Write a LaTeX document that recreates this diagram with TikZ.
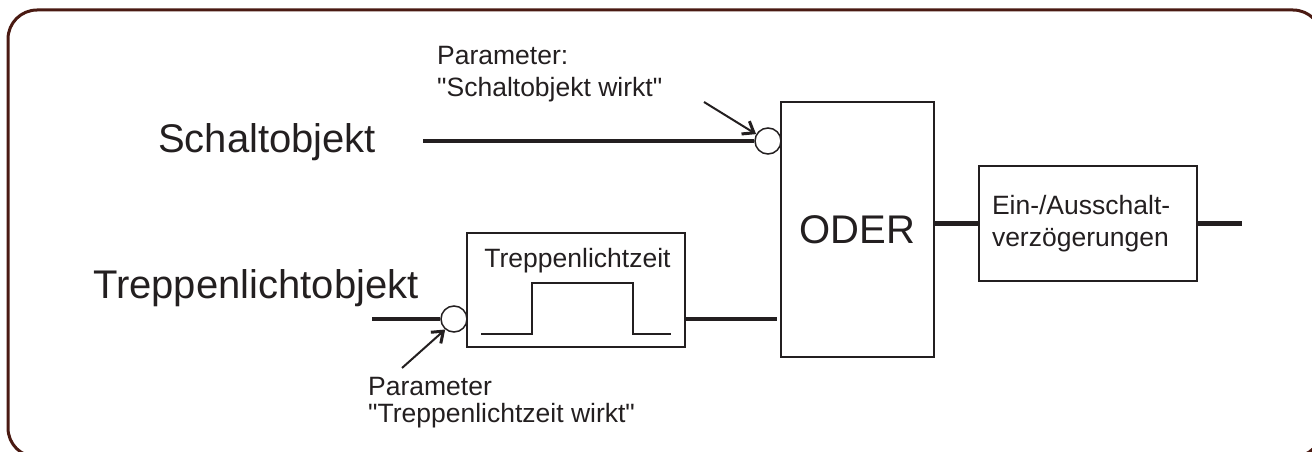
\documentclass[tikz,border=0pt]{standalone}
\usepackage{fontspec}
\setmainfont{Liberation Sans}[Ligatures=TeXOff]
\usetikzlibrary{arrows.meta}
\definecolor{ink}{HTML}{231F20}
\definecolor{framec}{HTML}{4A1A12}
\begin{document}
\begin{tikzpicture}[x=1pt,y=-1pt,
  blk/.style={draw=ink, line width=2pt, inner sep=0pt, text=ink},
  sig/.style={draw=ink, line width=4.5pt},
  circ/.style={circle, draw=ink, line width=1.5pt, fill=white, minimum size=26pt, inner sep=0pt},
  parr/.style={draw=ink, line width=2pt, -{Straight Barb[length=10pt,width=15pt,line width=3pt]}},
  big/.style={font=\fontsize{40}{48}\selectfont, text=ink, inner sep=0pt},
  small/.style={font=\fontsize{26.5}{31}\selectfont, text=ink, inner sep=0pt, align=left}]
\useasboundingbox (0,0) rectangle (1312,452);
\draw[framec, line width=3pt, rounded corners=29pt] (8,10) rectangle (1322,457);

\node[big, anchor=base west] (schalt) at (158,152) {Schaltobjekt};
\node[big, anchor=base west] (trepp) at (93,298) {Treppenlichtobjekt};

\node[blk, minimum width=153pt, minimum height=255pt, font=\fontsize{40}{48}\selectfont] (oder) at (857.5,229.5) {ODER};
\node[blk, minimum width=218pt, minimum height=115pt, text width=192pt, inner xsep=13pt, align=left, font=\fontsize{26.5}{32}\selectfont] (ein) at (1088,223.5) {Ein-/Ausschalt-\\verzögerungen};

\node[blk, minimum width=218pt, minimum height=114pt] (tl) at (576,290) {};
\node[small, anchor=base] (tltext) at (577.5,267) {Treppenlichtzeit};
\draw[ink, line width=1.5pt] (481,334) -- (532,334) -- (532,283) -- (633,283) -- (633,334) -- (671,334);

\node[circ] (sc) at (768,141) {};
\node[circ] (tc) at (454,319) {};

\node[small, anchor=base west] (sp1) at (437,65) {Parameter:};
\node[small, anchor=base west] (sp2) at (437,96) {"Schaltobjekt wirkt"};
\node[small, anchor=base west] (tp1) at (368,395) {Parameter};
\node[small, anchor=base west] (tp2) at (368,422) {"Treppenlichtzeit wirkt"};

\coordinate (sin) at (423,141);
\coordinate (tin) at (372,319);
\coordinate (out) at (1242,223.5);
\coordinate (sa) at (704,102);
\coordinate (ta) at (402,368);

\draw[sig] (sin) -- (sc.west);
\draw[sig] (tin) -- (tc.west);
\draw[sig] (tl.east |- tc.center) -- ([xshift=-3pt]oder.west |- tc.center);
\draw[sig] (oder.east |- ein.west) -- (ein.west);
\draw[sig] (ein.east) -- (out);
\draw[parr] (sa) -- (sc.150);
\draw[parr] (ta) -- (tc.230);
\end{tikzpicture}
\end{document}
